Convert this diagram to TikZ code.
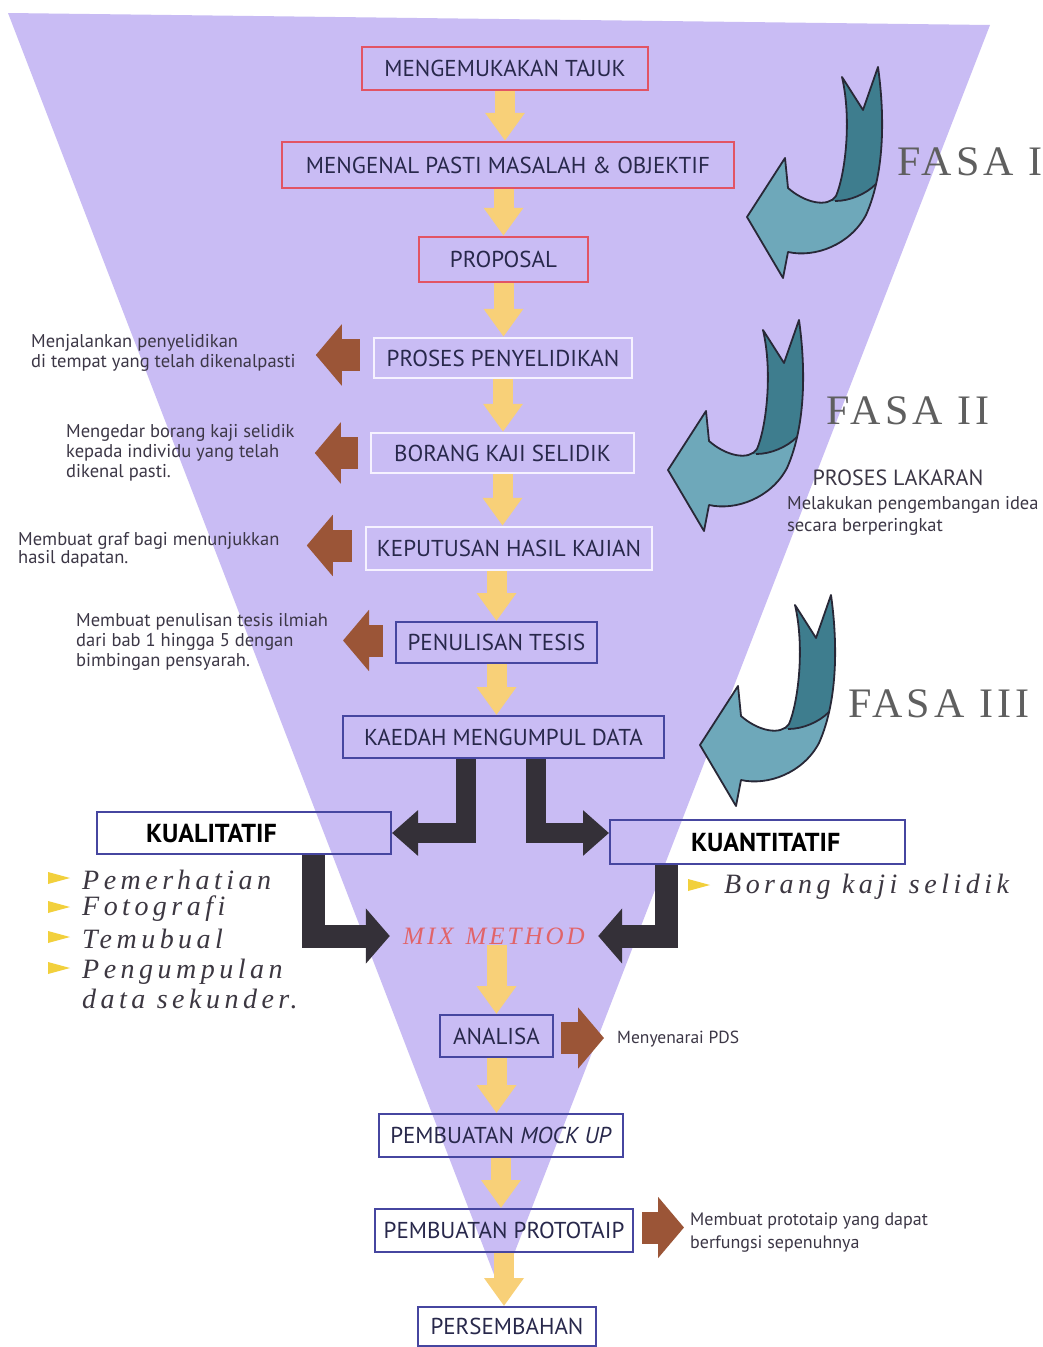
\documentclass[tikz,border=0pt]{standalone}
\usepackage{fontspec}
\setmainfont{PT Sans}
\usetikzlibrary{arrows.meta}
\newfontfamily\boxfont{PT Sans}
\newfontfamily\notefont{PT Sans}
\newfontfamily\listfont[LetterSpace=16]{Liberation Serif}
\newfontfamily\fasafont[LetterSpace=10]{Liberation Serif}
\newfontfamily\mixfont[LetterSpace=12]{Liberation Serif}
\definecolor{funnel}{RGB}{201,188,244}
\definecolor{boxred}{RGB}{226,84,100}
\definecolor{boxwhite}{RGB}{246,242,255}
\definecolor{boxblue}{RGB}{70,70,160}
\definecolor{txtnavy}{RGB}{40,40,75}
\definecolor{yarrow}{RGB}{248,208,120}
\definecolor{blkarrow}{RGB}{52,48,56}
\definecolor{brownarrow}{RGB}{155,85,55}
\definecolor{tealdark}{RGB}{62,125,142}
\definecolor{teallight}{RGB}{110,168,186}
\definecolor{outl}{RGB}{40,40,55}
\definecolor{notegray}{RGB}{60,55,70}
\definecolor{fasagray}{RGB}{95,95,95}
\definecolor{mixred}{RGB}{225,100,105}
\definecolor{bulletc}{RGB}{242,208,60}
\definecolor{listgray}{RGB}{60,55,65}
\newcommand{\jarrowpath}{(842,77) -- (863,110) -- (878,67) .. controls (884,110) and (886,170) .. (866,215) .. controls (850,245) and (815,258) .. (788,252) -- (783,278) -- (747,217) -- (785,158) -- (788,188) .. controls (805,203) and (828,208) .. (836,196) .. controls (845,175) and (852,120) .. (842,77) -- cycle}
\newcommand{\drawjarrow}{%
  \fill[teallight] \jarrowpath;
  \begin{scope}
    \clip \jarrowpath;
    \fill[tealdark] (815,40) -- (905,40) -- (905,175) -- (876,184) .. controls (866,194) and (850,201) .. (835,201) -- (815,201) -- cycle;
  \end{scope}
  \draw[outl, line width=1.8pt, line join=round] \jarrowpath;
  \draw[outl, line width=1.8pt] (876,184) .. controls (866,194) and (850,201) .. (835,201);
}
\newcommand{\mybul}[2]{\fill[bulletc] (#1,#2-6) -- (#1+22,#2) -- (#1,#2+6) -- cycle;}
\begin{document}
\begin{tikzpicture}[x=1pt,y=-1pt,
  stage/.style={draw, line width=2.5pt, inner sep=0pt, text=txtnavy, font=\boxfont\fontsize{23}{26}\selectfont},
  redbox/.style={stage, draw=boxred},
  whitebox/.style={stage, draw=boxwhite},
  bluebox/.style={stage, draw=boxblue, line width=2pt},
  yarr/.style={draw=yarrow, line width=20pt, -{Triangle[width=38pt,length=28pt]}},
  blkup/.style={draw=blkarrow, line width=20pt, -{Triangle[width=44pt,length=26pt]}},
  blklow/.style={draw=blkarrow, line width=23pt, -{Triangle[width=54pt,length=24pt]}},
  brarr/.style={draw=brownarrow, line width=32pt, -{Triangle[width=60pt,length=26pt]}},
  note/.style={font=\notefont\fontsize{18.5}{20}\selectfont, text=notegray, align=left, inner sep=0pt, anchor=west},
  fasa/.style={font=\fasafont\fontsize{42}{48}\selectfont, text=fasagray, inner sep=0pt},
  listtxt/.style={font=\listfont\itshape\fontsize{28}{30}\selectfont, text=listgray, anchor=west, inner sep=0pt, align=left}
]
\useasboundingbox (0,0) rectangle (1042,1347);
\fill[white] (0,0) rectangle (1042,1347);
\fill[funnel] (8,13) -- (990,25) -- (500,1290) -- cycle;

% teal curved arrows
\drawjarrow
\begin{scope}[shift={(-79,253)}]\drawjarrow\end{scope}
\begin{scope}[shift={(-47,528)}]\drawjarrow\end{scope}

% stage boxes
\node[redbox, minimum width=286pt, minimum height=43pt] (b1) at (505,68.5) {MENGEMUKAKAN TAJUK};
\node[redbox, minimum width=452pt, minimum height=46pt] (b2) at (508,165) {MENGENAL PASTI MASALAH \& OBJEKTIF};
\node[redbox, minimum width=169pt, minimum height=45pt] (b3) at (503.5,259.5) {PROPOSAL};
\node[whitebox, minimum width=258pt, minimum height=40pt] (b4) at (503,358) {PROSES PENYELIDIKAN};
\node[whitebox, minimum width=263pt, minimum height=40pt] (b5) at (502.5,453) {BORANG KAJI SELIDIK};
\node[whitebox, minimum width=286pt, minimum height=43pt] (b6) at (509,548.5) {KEPUTUSAN HASIL KAJIAN};
\node[bluebox, minimum width=201pt, minimum height=41pt] (b7) at (496.5,642.5) {PENULISAN TESIS};
\node[bluebox, minimum width=321pt, minimum height=42pt] (b8) at (503.5,737) {KAEDAH MENGUMPUL DATA};
\node[bluebox, minimum height=42pt, text=black, font=\boxfont\bfseries\fontsize{26}{28}\selectfont] (kual) at (244,833) {\makebox[294pt][l]{\hspace{49pt}KUALITATIF}};
\node[bluebox, minimum height=44pt, text=black, font=\boxfont\bfseries\fontsize{26}{28}\selectfont] (kuan) at (757.5,842) {\makebox[295pt][l]{\hspace{81pt}KUANTITATIF}};
\node[font=\mixfont\itshape\fontsize{25}{28}\selectfont, text=mixred, minimum width=208pt, inner sep=0pt] (mix) at (494,936) {MIX\hspace{12pt}METHOD};
\node[bluebox, minimum width=113pt, minimum height=42pt] (ana) at (496.5,1036) {ANALISA};
\node[bluebox, minimum width=244pt, minimum height=43pt] (mock) at (501,1135.5) {PEMBUATAN \textit{MOCK UP}};
\node[bluebox, minimum width=258pt, minimum height=43pt] (proto) at (504,1230.5) {PEMBUATAN PROTOTAIP};
\node[bluebox, minimum width=178pt, minimum height=39pt] (pers) at (507,1326.5) {PERSEMBAHAN};

% yellow flow arrows
\draw[yarr] (b1.south) -- (b1.south |- b2.north);
\draw[yarr] (b3.north |- b2.south) -- (b3.north);
\draw[yarr] (b3.south) -- (b3.south |- b4.north);
\draw[yarr] (b4.south) -- (b4.south |- b5.north);
\draw[yarr] (b5.south) -- (b5.south |- b6.north);
\draw[yarr] (b7.north |- b6.south) -- (b7.north);
\draw[yarr] (b7.south) -- (b7.south |- b8.north);
\draw[yarr] (ana.north |- mix.south) -- (ana.north);
\draw[yarr] (ana.south) -- (ana.south |- mock.north);
\draw[yarr] (mock.south) -- (mock.south |- proto.north);
\draw[yarr] (proto.south) -- (proto.south |- pers.north);

% black elbow arrows
\draw[blkup] ([xshift=-37.5pt]b8.south) |- (kual.east);
\draw[blkup] ([xshift=32.5pt]b8.south) |- ([yshift=9pt]kuan.west);
\draw[blklow] ([xshift=69pt]kual.south) |- (mix.west);
\draw[blklow] ([xshift=-91.5pt]kuan.south) |- (mix.east);

% brown side arrows
\draw[brarr] ([xshift=-13pt,yshift=3pt]b4.west) -- ++(-44pt,0pt);
\draw[brarr] ([xshift=-12pt]b5.west) -- ++(-43pt,0pt);
\draw[brarr] ([xshift=-13pt,yshift=3pt]b6.west) -- ++(-45pt,0pt);
\draw[brarr] ([xshift=-12pt,yshift=2pt]b7.west) -- ++(-40pt,0pt);
\draw[brarr] ([xshift=7pt,yshift=-2pt]ana.east) -- ++(43pt,0pt);
\draw[brarr] ([xshift=8pt,yshift=3pt]proto.east) -- ++(42pt,0pt);

% notes
\node[note] (n1) at (31,353) {Menjalankan penyelidikan\\di tempat yang telah dikenalpasti};
\node[note] (n2) at (66,453) {Mengedar borang kaji selidik\\kepada individu yang telah\\dikenal pasti.};
\node[note, font=\notefont\fontsize{18.5}{17}\selectfont] (n3) at (18,550) {Membuat graf bagi menunjukkan\\hasil dapatan.};
\node[note] (n4) at (76,642) {Membuat penulisan tesis ilmiah\\dari bab 1 hingga 5 dengan\\bimbingan pensyarah.};
\node[note, font=\notefont\fontsize{17.5}{20}\selectfont] (n5) at (617,1039) {Menyenarai PDS};
\node[note, font=\notefont\fontsize{18}{23}\selectfont] (n6) at (690,1233) {Membuat prototaip yang dapat\\berfungsi sepenuhnya};
\node[font=\notefont\fontsize{22}{24}\selectfont, text=notegray, inner sep=0pt] (lak) at (898,478) {PROSES LAKARAN};
\node[note, font=\notefont\fontsize{18.5}{22}\selectfont] (lak2) at (787,516) {Melakukan pengembangan idea\\secara berperingkat};

% phase labels
\node[fasa, anchor=west] (f1) at (897,162) {FASA I};
\node[fasa] (f2) at (908,411) {FASA II};
\node[fasa] (f3) at (939,704) {FASA III};

% lists
\mybul{48}{878}
\mybul{48}{907}
\mybul{48}{937}
\mybul{48}{968}
\mybul{688}{885}
\node[listtxt] (l1) at (82,880) {Pemerhatian};
\node[listtxt] (l2) at (82,909) {Fotografi};
\node[listtxt] (l3) at (82,939) {Temubual};
\node[listtxt] (l4) at (82,984) {Pengumpulan\\data sekunder.};
\node[listtxt] (r1) at (724,887) {Borang kaji selidik};
\end{tikzpicture}
\end{document}
